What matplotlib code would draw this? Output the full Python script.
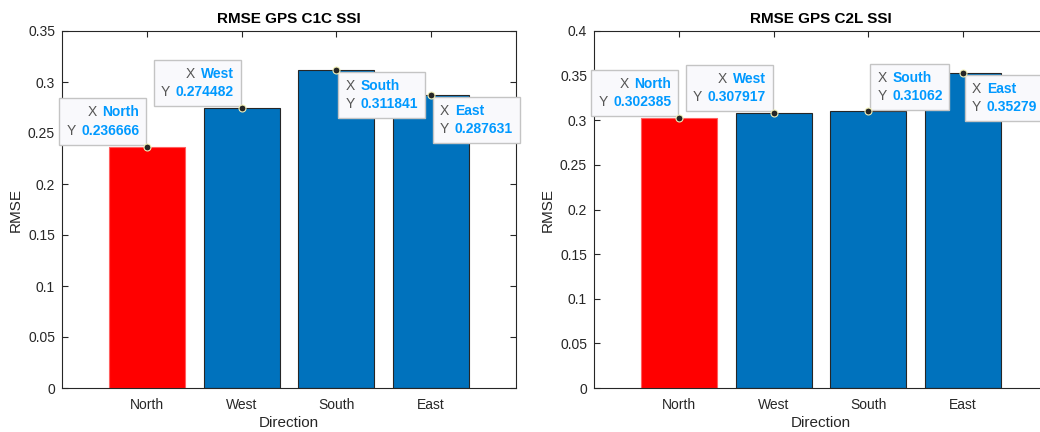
"""
RMSE per direction for GPS C1C / C2L SSI, with MATLAB-style data tips
"""

import matplotlib
matplotlib.use('Agg')
import matplotlib.pyplot as plt
from matplotlib.offsetbox import TextArea, HPacker, VPacker, AnnotationBbox

plt.rcParams['font.family'] = ['Liberation Sans', 'DejaVu Sans']

# ===== Data =====
directions = ['North', 'West', 'South', 'East']
rmse_c1c = [0.236666, 0.274482, 0.311841, 0.287631]
rmse_c2l = [0.302385, 0.307917, 0.31062, 0.35279]
yticks_c1c = [0, 0.05, 0.1, 0.15, 0.2, 0.25, 0.3, 0.35]
yticks_c2l = [0, 0.05, 0.1, 0.15, 0.2, 0.25, 0.3, 0.35, 0.4]
tip_sides_c1c = ['upleft', 'upleft', 'downright', 'downright']
tip_sides_c2l = ['upleft', 'upleft', 'upright', 'downright']

BLUE = '#0072BD'
AX_COLOR = '#262626'
TIP_GRAY = '#555555'
TIP_BLUE = '#0099FF'

W, H = 1040, 432


def add_tip(ax, x, y, label, value, side):
    """MATLAB-like datatip: 'X label' / 'Y value' in a light box"""
    fs = 10
    gray = dict(color=TIP_GRAY, fontsize=fs)
    blue = dict(color=TIP_BLUE, fontsize=fs, fontweight='bold')
    line_x = HPacker(children=[TextArea('X', textprops=gray),
                               TextArea(label, textprops=blue)],
                     pad=0, sep=4)
    line_y = HPacker(children=[TextArea('Y', textprops=gray),
                               TextArea(f'{value:g}', textprops=blue)],
                     pad=0, sep=4)
    align = 'right' if side == 'upleft' else 'left'
    box = VPacker(children=[line_x, line_y], align=align, pad=0, sep=3)

    pad_px = 7
    if side == 'upleft':
        alignment, off = (1, 0), (-1 - pad_px, 2 + pad_px)
    elif side == 'upright':
        alignment, off = (0, 0), (2 + pad_px, 1 + pad_px)
    else:
        alignment, off = (0, 1), (2 + pad_px, -2 - pad_px)

    ab = AnnotationBbox(box, (x, y), xybox=off, xycoords='data',
                        boxcoords='offset pixels', box_alignment=alignment,
                        frameon=True, pad=0.5, fontsize=10,
                        bboxprops=dict(fc='#f9f9fc', ec='#c4c4c4', lw=1.0))
    ab.set_zorder(6)
    ax.add_artist(ab)
    ax.plot(x, y, 'o', ms=5, mfc=AX_COLOR, mec='#f2f0b8', mew=0.8,
            zorder=7, clip_on=False)


def draw_panel(ax, values, yticks, sides, title):
    xs = list(range(len(directions)))
    colors = ['red'] + [BLUE] * (len(directions) - 1)
    edges = ['#ff6060'] + [AX_COLOR] * (len(directions) - 1)
    ax.bar(xs, values, width=0.8, color=colors, edgecolor=edges,
           linewidth=0.8, zorder=2)

    ax.set_xlim(-0.9, 3.9)
    ax.set_ylim(yticks[0], yticks[-1])
    ax.set_xticks(xs)
    ax.set_xticklabels(directions)
    ax.set_yticks(yticks)
    ax.set_yticklabels([f'{t:g}' for t in yticks])

    ax.tick_params(direction='in', length=4, width=0.8, colors=AX_COLOR,
                   labelsize=10, top=True, right=True, pad=5)
    ax.tick_params(axis='x', pad=7)
    for sp in ax.spines.values():
        sp.set_color(AX_COLOR)
        sp.set_linewidth(0.8)

    ax.set_title(title, fontsize=11, fontweight='bold', color='black', pad=6)
    ax.set_xlabel('Direction', fontsize=11, color=AX_COLOR, labelpad=3)
    ax.set_ylabel('RMSE', fontsize=11, color=AX_COLOR, labelpad=4)

    for x, v, label, side in zip(xs, values, directions, sides):
        add_tip(ax, x, v, label, v, side)


def main():
    fig = plt.figure(figsize=(W / 100, H / 100), dpi=100)

    # left panel: 62..516 px, right panel starts at 594 px (cut at figure edge)
    ax1 = fig.add_axes([62 / W, (H - 388) / H, 454 / W, 357 / H])
    ax2 = fig.add_axes([594 / W, (H - 388) / H, 454 / W, 357 / H])

    draw_panel(ax1, rmse_c1c, yticks_c1c, tip_sides_c1c, 'RMSE GPS C1C SSI')
    draw_panel(ax2, rmse_c2l, yticks_c2l, tip_sides_c2l, 'RMSE GPS C2L SSI')

    fig.savefig('out.png', dpi=100)
    plt.close(fig)


if __name__ == "__main__":
    main()
